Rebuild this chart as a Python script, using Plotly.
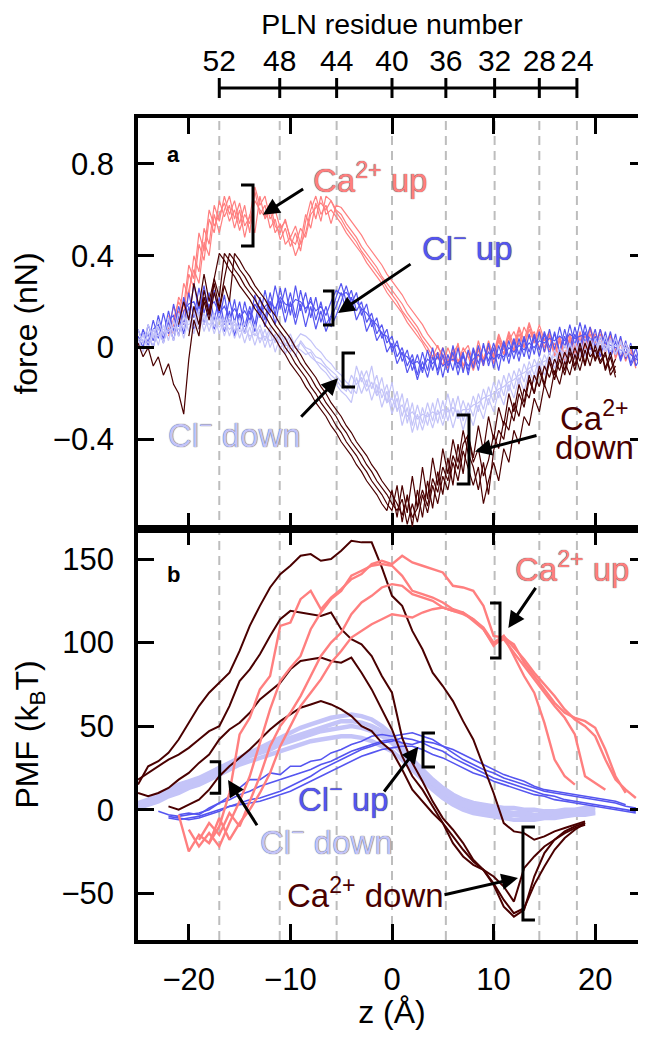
import plotly.graph_objects as go

FONT = "Liberation Sans, Arial, Helvetica, sans-serif"
C_CA_UP = "#FF7F7F"
C_CL_UP = "#5555F0"
C_CL_DOWN = "#C4C4F8"
C_CA_DOWN = "#4A0000"

# ---------------- top axis: PLN residue numbers and their z positions ----------------
residue_numbers = [52, 48, 44, 40, 36, 32, 28, 24]
residue_z = [-17.0, -11.05, -5.45, 0.0, 5.3, 10.1, 14.5, 18.2]

# ---------------- panel a: force (nN) vs z (Å) ----------------
z_force = [-25.0, -24.5, -24.0, -23.5, -23.0, -22.5, -22.0, -21.5, -21.0, -20.5,
           -20.0, -19.5, -19.0, -18.5, -18.0, -17.5, -17.0, -16.5, -16.0, -15.5,
           -15.0, -14.5, -14.0, -13.5, -13.0, -12.5, -12.0, -11.5, -11.0, -10.5,
           -10.0, -9.5, -9.0, -8.5, -8.0, -7.5, -7.0, -6.5, -6.0, -5.5,
           -5.0, -4.5, -4.0, -3.5, -3.0, -2.5, -2.0, -1.5, -1.0, -0.5,
           0.0, 0.5, 1.0, 1.5, 2.0, 2.5, 3.0, 3.5, 4.0, 4.5,
           5.0, 5.5, 6.0, 6.5, 7.0, 7.5, 8.0, 8.5, 9.0, 9.5,
           10.0, 10.5, 11.0, 11.5, 12.0, 12.5, 13.0, 13.5, 14.0, 14.5,
           15.0, 15.5, 16.0, 16.5, 17.0, 17.5, 18.0, 18.5, 19.0, 19.5,
           20.0, 20.5, 21.0, 21.5, 22.0, 22.5, 23.0, 23.5, 24.0, 24.5]

force_ca_up_1 = [None, None, None, None, None, None, 0.08, 0.18, 0.12, 0.28,
                 0.22, 0.40, 0.33, 0.52, 0.45, 0.62, 0.55, 0.66, 0.58, 0.64,
                 0.54, 0.62, 0.50, 0.68, 0.58, 0.62, 0.52, 0.56, 0.47, 0.52,
                 0.44, 0.50, 0.42, 0.55, 0.64, 0.56, 0.66, 0.58, 0.60, 0.57,
                 0.54, 0.50, 0.47, 0.44, 0.41, 0.37, 0.34, 0.31, 0.28, 0.24,
                 0.21, 0.18, 0.15, 0.11, 0.08, 0.05, 0.02, -0.02, -0.05, -0.02,
                 -0.08, 0.0, -0.06, 0.02, -0.1, -0.02, -0.08, 0.03, -0.05, 0.01,
                 -0.07, 0.04, -0.03, 0.06, -0.02, 0.08, 0.0, 0.1, 0.02, 0.07,
                 -0.02, 0.05, -0.04, 0.03, -0.06, 0.04, -0.03, 0.06, -0.02, 0.08,
                 0.0, 0.05, -0.03, 0.06, -0.05, 0.02, -0.06, 0.0, -0.08, None]
force_ca_up_2 = [None, None, None, None, None, None, 0.05, 0.12, 0.20, 0.15,
                 0.32, 0.26, 0.45, 0.38, 0.56, 0.50, 0.64, 0.57, 0.62, 0.52,
                 0.60, 0.48, 0.58, 0.50, 0.66, 0.56, 0.60, 0.50, 0.54, 0.45,
                 0.48, 0.40, 0.46, 0.58, 0.52, 0.63, 0.55, 0.66, 0.64, 0.60,
                 0.58, 0.54, 0.51, 0.48, 0.44, 0.41, 0.38, 0.35, 0.31, 0.28,
                 0.25, 0.22, 0.19, 0.15, 0.12, 0.09, 0.05, 0.02, -0.01, -0.05,
                 0.0, -0.06, -0.02, 0.01, -0.08, -0.02, -0.09, 0.0, -0.06, 0.03,
                 -0.04, 0.05, -0.01, 0.07, 0.01, 0.09, 0.03, 0.11, 0.04, 0.08,
                 0.0, 0.06, -0.03, 0.04, -0.04, 0.05, -0.02, 0.07, 0.0, 0.09,
                 0.02, 0.06, -0.02, 0.05, -0.04, 0.03, -0.05, -0.01, -0.09, None]
force_ca_up_3 = [None, None, None, None, None, None, 0.10, 0.06, 0.16, 0.10,
                 0.25, 0.34, 0.28, 0.46, 0.40, 0.58, 0.50, 0.60, 0.66, 0.56,
                 0.63, 0.53, 0.57, 0.70, 0.62, 0.66, 0.56, 0.60, 0.52, 0.55,
                 0.48, 0.53, 0.45, 0.50, 0.60, 0.66, 0.58, 0.62, 0.54, 0.62,
                 0.61, 0.58, 0.55, 0.52, 0.49, 0.45, 0.42, 0.39, 0.36, 0.32,
                 0.29, 0.26, 0.23, 0.19, 0.16, 0.13, 0.10, 0.06, 0.03, 0.0,
                 -0.03, -0.07, 0.0, -0.06, -0.02, 0.01, -0.07, -0.01, -0.08, 0.02,
                 -0.05, 0.03, -0.03, 0.05, -0.01, 0.06, 0.0, 0.08, 0.02, 0.10,
                 0.03, 0.07, -0.01, 0.05, -0.03, 0.03, -0.05, 0.04, -0.02, 0.06,
                 0.0, 0.08, 0.01, 0.06, -0.02, 0.04, -0.03, 0.01, -0.06, None]
force_ca_up_4 = [None, None, None, None, None, None, 0.14, 0.09, 0.22, 0.18,
                 0.36, 0.30, 0.50, 0.42, 0.60, 0.53, 0.58, 0.63, 0.55, 0.60,
                 0.51, 0.58, 0.54, 0.64, 0.60, 0.57, 0.63, 0.53, 0.50, 0.56,
                 0.47, 0.45, 0.52, 0.48, 0.58, 0.61, 0.63, 0.60, 0.64, 0.59,
                 0.56, 0.52, 0.49, 0.46, 0.42, 0.39, 0.36, 0.33, 0.30, 0.26,
                 0.23, 0.20, 0.16, 0.13, 0.10, 0.07, 0.03, 0.0, -0.04, 0.01,
                 -0.05, -0.09, -0.03, -0.07, 0.0, -0.04, -0.1, -0.03, -0.07, 0.0,
                 -0.03, 0.06, 0.0, 0.03, 0.07, 0.01, 0.09, 0.04, 0.07, 0.0,
                 0.04, -0.01, 0.02, -0.05, 0.01, 0.06, 0.0, 0.03, 0.05, 0.01,
                 0.06, 0.02, 0.0, 0.03, -0.01, -0.04, 0.02, -0.03, -0.05, None]

force_cl_up_1 = [0.05, 0.0, 0.10, 0.03, 0.14, 0.05, 0.16, 0.07, 0.18, 0.10,
                 0.24, 0.13, 0.26, 0.15, 0.24, 0.12, 0.22, 0.10, 0.21, 0.11,
                 0.20, 0.09, 0.18, 0.10, 0.22, 0.12, 0.24, 0.14, 0.26, 0.15,
                 0.24, 0.13, 0.25, 0.15, 0.22, 0.12, 0.20, 0.10, 0.14, 0.22,
                 0.28, 0.20, 0.25, 0.16, 0.20, 0.11, 0.15, 0.06, 0.10, 0.02,
                 0.05, -0.04, 0.0, -0.08, -0.03, -0.12, -0.02, -0.10, 0.0, -0.12,
                 -0.03, -0.11, 0.01, -0.09, -0.02, -0.12, -0.01, -0.1, 0.02, -0.08,
                 0.0, -0.1, 0.02, -0.07, 0.03, -0.06, 0.04, -0.05, 0.05, -0.04,
                 0.06, -0.03, 0.07, -0.02, 0.08, -0.01, 0.09, 0.0, 0.1, 0.01,
                 0.08, -0.02, 0.07, -0.03, 0.06, -0.05, 0.03, -0.07, 0.0, -0.09]
force_cl_up_2 = [0.0, 0.08, 0.02, 0.12, 0.04, 0.15, 0.06, 0.19, 0.09, 0.22,
                 0.12, 0.28, 0.16, 0.27, 0.14, 0.25, 0.12, 0.23, 0.10, 0.21,
                 0.08, 0.20, 0.11, 0.23, 0.13, 0.25, 0.15, 0.27, 0.17, 0.26,
                 0.14, 0.27, 0.16, 0.24, 0.13, 0.22, 0.11, 0.18, 0.09, 0.14,
                 0.20, 0.27, 0.19, 0.24, 0.14, 0.19, 0.09, 0.13, 0.04, 0.08,
                 -0.02, 0.03, -0.06, -0.01, -0.1, -0.03, -0.11, -0.01, -0.1, -0.02,
                 -0.13, -0.03, -0.1, 0.0, -0.11, -0.01, -0.09, 0.01, -0.08, 0.02,
                 -0.09, 0.01, -0.06, 0.03, -0.05, 0.04, -0.04, 0.06, -0.03, 0.07,
                 -0.02, 0.08, -0.01, 0.09, 0.0, 0.1, 0.01, 0.11, 0.02, 0.09,
                 0.0, 0.08, -0.01, 0.07, -0.03, 0.05, -0.05, 0.02, -0.08, -0.04]
force_cl_up_3 = [0.08, 0.02, 0.06, 0.0, 0.09, 0.02, 0.11, 0.03, 0.14, 0.06,
                 0.18, 0.08, 0.2, 0.1, 0.19, 0.08, 0.17, 0.07, 0.16, 0.05,
                 0.15, 0.06, 0.16, 0.07, 0.18, 0.09, 0.2, 0.1, 0.21, 0.11,
                 0.2, 0.1, 0.19, 0.09, 0.18, 0.08, 0.16, 0.07, 0.13, 0.18,
                 0.24, 0.16, 0.22, 0.12, 0.17, 0.07, 0.12, 0.03, 0.07, -0.02,
                 0.02, -0.07, -0.02, -0.11, -0.05, -0.14, -0.06, -0.13, -0.04, -0.1,
                 0.0, -0.08, -0.02, -0.12, -0.03, -0.1, 0.0, -0.07, 0.01, -0.06,
                 0.02, -0.05, 0.03, -0.04, 0.04, -0.03, 0.05, -0.02, 0.06, -0.01,
                 0.07, 0.0, 0.06, -0.02, 0.05, -0.03, 0.06, -0.02, 0.07, -0.01,
                 0.05, -0.04, 0.04, -0.05, 0.03, -0.06, 0.01, -0.08, -0.03, -0.1]
force_cl_up_4 = [0.03, 0.06, 0.01, 0.08, 0.1, 0.04, 0.12, 0.14, 0.05, 0.16,
                 0.19, 0.2, 0.14, 0.22, 0.18, 0.2, 0.15, 0.18, 0.13, 0.17,
                 0.13, 0.16, 0.12, 0.19, 0.15, 0.18, 0.2, 0.17, 0.22, 0.19,
                 0.18, 0.21, 0.2, 0.17, 0.2, 0.16, 0.18, 0.14, 0.2, 0.25,
                 0.23, 0.24, 0.21, 0.2, 0.17, 0.15, 0.12, 0.1, 0.06, 0.05,
                 0.0, 0.01, -0.03, -0.04, -0.07, -0.06, -0.09, -0.05, -0.07, -0.04,
                 -0.08, -0.06, -0.05, -0.07, -0.04, -0.08, -0.05, -0.03, -0.06, -0.02,
                 -0.05, -0.03, -0.04, 0.0, -0.02, 0.01, -0.01, 0.02, 0.0, 0.03,
                 0.02, 0.04, 0.03, 0.05, 0.03, 0.06, 0.04, 0.05, 0.06, 0.04,
                 0.03, 0.04, 0.02, 0.01, 0.0, -0.01, -0.02, -0.03, -0.05, -0.06]

force_cl_down_1 = [0.04, -0.02, 0.07, 0.0, 0.09, 0.02, 0.1, 0.03, 0.12, 0.04,
                   0.13, 0.06, 0.15, 0.07, 0.14, 0.06, 0.13, 0.05, 0.12, 0.04,
                   0.1, 0.02, 0.09, 0.01, 0.08, 0.0, 0.07, -0.02, 0.05, -0.03,
                   0.04, -0.04, 0.03, 0.0, -0.01, -0.04, -0.05, -0.08, -0.1, -0.12,
                   -0.15, -0.17, -0.2, -0.08, -0.15, -0.1, -0.18, -0.12, -0.22, -0.16,
                   -0.26, -0.19, -0.3, -0.22, -0.34, -0.25, -0.33, -0.24, -0.32, -0.22,
                   -0.31, -0.2, -0.3, -0.21, -0.32, -0.24, -0.3, -0.2, -0.27, -0.17,
                   -0.24, -0.14, -0.21, -0.11, -0.18, -0.09, -0.15, -0.06, -0.12, -0.04,
                   -0.09, -0.02, -0.07, 0.0, -0.05, 0.02, -0.04, 0.03, -0.03, 0.04,
                   -0.02, 0.05, -0.01, 0.04, -0.03, 0.03, -0.04, 0.01, None, None]
force_cl_down_2 = [0.0, 0.06, -0.01, 0.08, 0.01, 0.1, 0.03, 0.12, 0.05, 0.14,
                   0.07, 0.16, 0.08, 0.15, 0.07, 0.15, 0.06, 0.13, 0.05, 0.12,
                   0.04, 0.11, 0.03, 0.1, 0.02, 0.08, 0.0, 0.06, -0.01, 0.05,
                   -0.02, 0.03, 0.06, 0.05, 0.03, 0.0, -0.02, -0.05, -0.07, -0.1,
                   -0.12, -0.15, -0.17, -0.2, -0.1, -0.17, -0.08, -0.2, -0.13, -0.24,
                   -0.15, -0.28, -0.2, -0.33, -0.24, -0.36, -0.26, -0.34, -0.24, -0.33,
                   -0.23, -0.32, -0.22, -0.31, -0.23, -0.3, -0.21, -0.28, -0.18, -0.25,
                   -0.15, -0.22, -0.12, -0.19, -0.1, -0.16, -0.07, -0.13, -0.05, -0.1,
                   -0.03, -0.08, -0.01, -0.06, 0.01, -0.04, 0.02, -0.04, 0.03, -0.03,
                   0.04, -0.02, 0.05, -0.02, 0.04, -0.03, 0.02, -0.05, None, None]
force_cl_down_3 = [0.08, 0.02, 0.1, 0.04, 0.12, 0.05, 0.13, 0.06, 0.15, 0.08,
                   0.16, 0.09, 0.17, 0.1, 0.16, 0.09, 0.15, 0.08, 0.14, 0.07,
                   0.13, 0.06, 0.12, 0.05, 0.1, 0.03, 0.09, 0.02, 0.07, 0.01,
                   0.06, 0.0, 0.02, -0.01, -0.04, -0.06, -0.09, -0.11, -0.14, -0.16,
                   -0.19, -0.21, -0.24, -0.13, -0.2, -0.14, -0.23, -0.16, -0.26, -0.19,
                   -0.29, -0.22, -0.34, -0.26, -0.37, -0.29, -0.36, -0.28, -0.35, -0.27,
                   -0.34, -0.26, -0.35, -0.27, -0.36, -0.28, -0.34, -0.25, -0.31, -0.22,
                   -0.28, -0.19, -0.25, -0.16, -0.22, -0.13, -0.19, -0.1, -0.15, -0.07,
                   -0.12, -0.05, -0.09, -0.02, -0.07, 0.0, -0.05, 0.01, -0.04, 0.02,
                   -0.03, 0.03, -0.02, 0.03, -0.03, 0.02, -0.04, 0.0, None, None]
force_cl_down_4 = [0.03, 0.05, 0.02, 0.06, 0.05, 0.08, 0.07, 0.09, 0.08, 0.11,
                   0.1, 0.12, 0.11, 0.13, 0.1, 0.12, 0.09, 0.11, 0.08, 0.1,
                   0.07, 0.08, 0.05, 0.06, 0.04, 0.05, 0.03, 0.04, 0.02, 0.01,
                   0.01, 0.0, -0.01, -0.03, -0.02, -0.06, -0.07, -0.09, -0.12, -0.14,
                   -0.17, -0.19, -0.12, -0.16, -0.13, -0.19, -0.15, -0.21, -0.18, -0.24,
                   -0.22, -0.27, -0.25, -0.3, -0.28, -0.31, -0.29, -0.3, -0.28, -0.29,
                   -0.27, -0.28, -0.26, -0.29, -0.27, -0.27, -0.25, -0.24, -0.22, -0.21,
                   -0.2, -0.18, -0.17, -0.15, -0.14, -0.12, -0.11, -0.09, -0.08, -0.07,
                   -0.06, -0.05, -0.04, -0.03, -0.02, -0.02, -0.01, 0.0, -0.01, 0.01,
                   0.0, 0.02, 0.01, 0.0, 0.01, -0.01, 0.0, -0.02, None, None]

force_ca_down_1 = [0.02, -0.04, 0.0, -0.08, -0.04, -0.12, -0.07, -0.16, -0.2, -0.29,
                   -0.05, 0.12, 0.05, 0.22, 0.14, 0.3, 0.41, 0.38, 0.34, 0.31,
                   0.27, 0.24, 0.21, 0.17, 0.14, 0.10, 0.07, 0.04, 0.0, -0.03,
                   -0.07, -0.10, -0.13, -0.17, -0.20, -0.24, -0.27, -0.30, -0.34, -0.37,
                   -0.41, -0.44, -0.47, -0.51, -0.54, -0.58, -0.61, -0.64, -0.68, -0.71,
                   -0.62, -0.74, -0.6, -0.72, -0.56, -0.7, -0.52, -0.66, -0.48, -0.6,
                   -0.44, -0.55, -0.4, -0.5, -0.36, -0.46, -0.52, -0.62, -0.5, -0.64,
                   -0.45, -0.36, -0.4, -0.26, -0.32, -0.2, -0.26, -0.14, -0.2, -0.1,
                   -0.17, -0.06, -0.14, -0.05, -0.12, -0.02, -0.1, 0.0, -0.08, 0.02,
                   -0.06, 0.0, -0.1, -0.04, -0.13, None, None, None, None, None]
force_ca_down_2 = [None, None, None, None, None, None, None, None, 0.1, 0.2,
                   0.12, 0.28, 0.18, 0.32, 0.2, 0.3, 0.22, 0.41, 0.38, 0.34,
                   0.31, 0.27, 0.24, 0.21, 0.17, 0.14, 0.10, 0.07, 0.04, 0.0,
                   -0.03, -0.07, -0.10, -0.13, -0.17, -0.20, -0.24, -0.27, -0.30, -0.34,
                   -0.37, -0.41, -0.44, -0.47, -0.51, -0.54, -0.58, -0.61, -0.64, -0.68,
                   -0.71, -0.6, -0.76, -0.64, -0.78, -0.62, -0.74, -0.58, -0.7, -0.54,
                   -0.64, -0.48, -0.6, -0.42, -0.55, -0.38, -0.48, -0.34, -0.45, -0.3,
                   -0.4, -0.26, -0.34, -0.2, -0.28, -0.16, -0.24, -0.12, -0.2, -0.08,
                   -0.16, -0.04, -0.12, -0.02, -0.1, 0.0, -0.08, 0.02, -0.07, 0.03,
                   -0.05, 0.01, -0.09, -0.02, -0.11, None, None, None, None, None]
force_ca_down_3 = [None, None, None, None, None, None, None, None, None, None,
                   0.05, 0.18, 0.1, 0.25, 0.15, 0.28, 0.17, 0.3, 0.41, 0.38,
                   0.34, 0.31, 0.27, 0.24, 0.21, 0.17, 0.14, 0.10, 0.07, 0.04,
                   0.0, -0.03, -0.07, -0.10, -0.13, -0.17, -0.20, -0.24, -0.27, -0.30,
                   -0.34, -0.37, -0.41, -0.44, -0.47, -0.51, -0.54, -0.58, -0.61, -0.64,
                   -0.68, -0.71, -0.66, -0.77, -0.68, -0.76, -0.64, -0.72, -0.6, -0.68,
                   -0.56, -0.62, -0.5, -0.58, -0.45, -0.52, -0.6, -0.52, -0.68, -0.58,
                   -0.5, -0.58, -0.44, -0.5, -0.36, -0.42, -0.3, -0.34, -0.22, -0.28,
                   -0.16, -0.22, -0.1, -0.16, -0.06, -0.12, -0.03, -0.1, -0.01, -0.08,
                   0.01, -0.06, -0.02, -0.12, -0.08, None, None, None, None, None]
force_ca_down_4 = [None, None, None, None, None, None, None, None, None, None,
                   None, None, 0.08, 0.2, 0.12, 0.24, 0.16, 0.27, 0.2, 0.41,
                   0.38, 0.34, 0.31, 0.27, 0.24, 0.21, 0.17, 0.14, 0.10, 0.07,
                   0.04, 0.0, -0.03, -0.07, -0.10, -0.13, -0.17, -0.20, -0.24, -0.27,
                   -0.30, -0.34, -0.37, -0.41, -0.44, -0.47, -0.51, -0.54, -0.58, -0.61,
                   -0.64, -0.68, -0.73, -0.65, -0.74, -0.7, -0.62, -0.69, -0.57, -0.63,
                   -0.52, -0.58, -0.47, -0.53, -0.42, -0.38, -0.5, -0.44, -0.56, -0.49,
                   -0.38, -0.44, -0.32, -0.36, -0.24, -0.3, -0.18, -0.22, -0.12, -0.17,
                   -0.08, -0.13, -0.05, -0.1, -0.02, -0.07, 0.0, -0.06, 0.02, -0.04,
                   -0.01, -0.07, -0.03, -0.1, -0.05, None, None, None, None, None]

# ---------------- panel b: PMF (kBT) vs z (Å) ----------------
z_pmf = [-25, -24, -23, -22, -21, -20, -19, -18, -17, -16,
         -15, -14, -13, -12, -11, -10, -9, -8, -7, -6,
         -5, -4, -3, -2, -1, 0, 1, 2, 3, 4,
         5, 6, 7, 8, 9, 10, 11, 12, 13, 14,
         15, 16, 17, 18, 19, 20, 21, 22, 23, 24]

pmf_ca_up_1 = [None, None, None, None, -3, -25, -15, -20, -10, 10,
               45, 55, 72, 80, 110, 112, 126, 131, 120, 127,
               132, 138, 141, 147, 149, 147, 152, 148, 146, 144,
               142, 134, 133, 131, 122, 104, 103, 99, 88, 80,
               72, 64, 58, 55, 53, 49, 36, 20, 10, None]
pmf_ca_up_2 = [None, None, None, None, None, -12, -22, -14, -22, -8,
               5, 20, 40, 60, 77, 85, 92, 108, 118, 126,
               131, 140, 143, 146, 147, 146, 140, 131, 129, 127,
               124, 120, 118, 114, 109, 100, 104, 92, 80, 70,
               52, 30, 20, 15, None, None, None, None, None, None]
pmf_ca_up_3 = [None, None, None, None, None, None, -18, -8, -15, -2,
               -10, 5, 20, 38, 50, 58, 68, 80, 92, 100,
               106, 117, 124, 128, 133, 135, 134, 129, 127, 125,
               121, 119, 118, 113, 108, 99, 102, 94, 86, 78,
               70, 62, 55, 45, 20, 16, 12, None, None, None]
pmf_ca_up_4 = [None, None, None, None, None, None, None, -20, -5, -18,
               -8, 0, 10, 22, 38, 50, 62, 70, 78, 88,
               95, 103, 107, 111, 114, 117, 116, 115, 118, 120,
               121, 119, 117, 114, 108, 98, 104, 97, 90, 82,
               75, 68, 60, 54, 50, 44, 30, 18, 12, 7]

pmf_ca_down_1 = [15, 26, 29, 34, 42, 52, 62, 70, 76, 82,
                 95, 110, 122, 133, 141, 146, 152, 153, 149, 150,
                 155, 161, 160, 160, 145, 128, 122, 107, 96, 82,
                 74, 65, 53, 42, 26, 10, -8, -13, -14, -18,
                 -16, -13, -11, -9, -7, None, None, None, None, None]
pmf_ca_down_2 = [18, 22, 26, 30, 33, 37, 42, 47, 50, 62,
                 77, 84, 93, 104, 114, 119, 118, 117, 116, 118,
                 108, 102, 99, 92, 80, 70, 43, 28, 17, 5,
                 -5, -12, -20, -30, -36, -44, -54, -62, -59, -45,
                 -34, -24, -17, -12, -8, None, None, None, None, None]
pmf_ca_down_3 = [10, 8, 10, 13, 18, 22, 28, 33, 42, 48,
                 52, 58, 66, 71, 76, 84, 89, 90, 91, 89,
                 88, 91, 82, 72, 60, 48, 32, 20, 12, 2,
                 -8, -16, -24, -31, -36, -40, -46, -55, -35, -28,
                 -22, -18, -14, -11, -9, None, None, None, None, None]
pmf_ca_down_4 = [None, None, None, 2, 0, 3, 6, 12, 20, 26,
                 31, 36, 42, 48, 53, 57, 61, 63, 65, 63,
                 60, 56, 50, 47, 40, 35, 24, 12, 5, -2,
                 -8, -20, -28, -33, -36, -45, -58, -64, -60, -40,
                 -26, -18, -13, -10, -8, None, None, None, None, None]

pmf_cl_up_1 = [None, None, -1, -3, -4, -3, -2, 0, 4, 8,
               13, 18, 18, 22, 21, 26, 26, 29, 30, 34,
               36, 39, 41, 44, 45, 44, 45, 46, 44, 42,
               38, 34, 30, 27, 24, 22, 19, 17, 15, 13,
               11, 10, 9, 8, 7, 6, 5, 4, 2, 1]
pmf_cl_up_2 = [None, None, None, -5, -6, -5, -4, -2, 0, 2,
               4, 6, 7, 9, 11, 14, 17, 20, 24, 27,
               30, 33, 36, 38, 40, 41, 43, 42, 40, 37,
               35, 31, 28, 25, 22, 19, 17, 15, 13, 11,
               9, 8, 6, 5, 4, 3, 2, 1, 0, -1]
pmf_cl_up_3 = [None, None, None, None, -3, -2, -3, 1, 4, 6,
               9, 11, 14, 16, 18, 20, 22, 24, 27, 29,
               32, 35, 37, 39, 41, 42, 40, 39, 41, 40,
               38, 36, 33, 30, 27, 24, 21, 19, 17, 14,
               12, 11, 10, 9, 8, 7, 6, 5, 3, None]
pmf_cl_up_4 = [None, None, None, -4, -5, -6, -5, -3, -1, 2,
               3, 4, 5, 7, 9, 11, 14, 17, 20, 23,
               26, 29, 32, 34, 36, 37, 38, 38, 36, 33,
               31, 28, 25, 22, 20, 17, 15, 13, 11, 9,
               8, 6, 5, 4, 3, 2, 1, 0, -1, -2]

pmf_cl_down_1 = [4, 6, 9, 12, 15, 17, 19, 22, 25, 28,
                 31, 34, 37, 40, 43, 46, 49, 51, 53, 55,
                 56, 57, 56, 54, 50, 45, 38, 30, 24, 18,
                 13, 9, 6, 4, 3, 2, 1, 1, 0, 0,
                 -1, -1, 0, 0, 1, 1, None, None, None, None]
pmf_cl_down_2 = [2, 4, 7, 10, 12, 15, 17, 20, 23, 26,
                 29, 32, 34, 36, 39, 41, 43, 45, 47, 48,
                 49, 50, 49, 47, 44, 40, 34, 27, 20, 14,
                 9, 5, 2, 0, -1, -2, -3, -3, -4, -4,
                 -4, -3, -3, -2, -2, -1, None, None, None, None]
pmf_cl_down_3 = [1, 3, 5, 8, 10, 13, 15, 18, 21, 24,
                 27, 29, 31, 33, 35, 37, 39, 41, 42, 43,
                 44, 44, 43, 41, 38, 35, 30, 24, 18, 12,
                 7, 3, 0, -2, -3, -4, -5, -6, -6, -6,
                 -5, -5, -4, -3, -3, -2, None, None, None, None]
pmf_cl_down_4 = [3, 5, 8, 11, 14, 16, 18, 21, 25, 27,
                 30, 33, 35, 38, 41, 43, 45, 47, 49, 51,
                 53, 53, 52, 50, 47, 43, 37, 29, 22, 16,
                 11, 7, 4, 2, 1, 0, -1, -2, -2, -3,
                 -3, -2, -2, -1, 0, 0, None, None, None, None]

# ---------------- figure ----------------
fig = go.Figure()


def add_line(xs, ys, color, width, panel):
    fig.add_trace(go.Scatter(
        x=xs, y=ys, mode="lines", line=dict(color=color, width=width),
        xaxis="x2" if panel == "a" else "x", yaxis="y2" if panel == "a" else "y",
        showlegend=False, hoverinfo="skip", connectgaps=False))


# panel a
for ys in (force_ca_up_1, force_ca_up_2, force_ca_up_3, force_ca_up_4):
    add_line(z_force, ys, C_CA_UP, 1.2, "a")
for ys in (force_cl_up_1, force_cl_up_2, force_cl_up_3, force_cl_up_4):
    add_line(z_force, ys, C_CL_UP, 1.2, "a")
for ys in (force_cl_down_1, force_cl_down_2, force_cl_down_3, force_cl_down_4):
    add_line(z_force, ys, C_CL_DOWN, 1.2, "a")
for ys in (force_ca_down_1, force_ca_down_2, force_ca_down_3, force_ca_down_4):
    add_line(z_force, ys, C_CA_DOWN, 1.2, "a")

# panel b
for ys in (pmf_cl_down_1, pmf_cl_down_2, pmf_cl_down_3, pmf_cl_down_4):
    add_line(z_pmf, ys, C_CL_DOWN, 4.5, "b")
for ys in (pmf_cl_up_1, pmf_cl_up_2, pmf_cl_up_3, pmf_cl_up_4):
    add_line(z_pmf, ys, C_CL_UP, 1.6, "b")
for ys in (pmf_ca_down_1, pmf_ca_down_2, pmf_ca_down_3, pmf_ca_down_4):
    add_line(z_pmf, ys, C_CA_DOWN, 2.0, "b")
for ys in (pmf_ca_up_1, pmf_ca_up_2, pmf_ca_up_3, pmf_ca_up_4):
    add_line(z_pmf, ys, C_CA_UP, 2.4, "b")

# right-side tick carriers (no data)
fig.add_trace(go.Scatter(x=[None], y=[None], xaxis="x", yaxis="y3", showlegend=False, hoverinfo="skip"))
fig.add_trace(go.Scatter(x=[None], y=[None], xaxis="x2", yaxis="y4", showlegend=False, hoverinfo="skip"))

# top residue axis line with cross ticks
fig.add_trace(go.Scatter(
    x=residue_z, y=[0] * len(residue_z), xaxis="x3", yaxis="y5", mode="lines+markers",
    line=dict(color="black", width=3),
    marker=dict(symbol="line-ns", size=16, color="black", line=dict(color="black", width=3)),
    showlegend=False, hoverinfo="skip"))

# layout geometry (the page adds an 8px body margin, compensated here)
PANEL_SPLIT = 0.44099
PANEL_TOP = 0.88197
X_RANGE = [-25, 25]
F_RANGE = [-0.79, 1.0]
P_RANGE = [-78, 168]

tick_font = dict(family=FONT, size=31, color="black")
frame = dict(showline=True, linewidth=3.5, linecolor="black", ticks="inside", ticklen=16,
             tickwidth=3, tickcolor="black", showgrid=False, zeroline=False)

fig.update_layout(
    width=638, height=1022,
    margin=dict(l=130, r=0, t=0, b=90),
    paper_bgcolor="white", plot_bgcolor="white",
    font=dict(family=FONT, color="black"),
    xaxis=dict(domain=[0, 1], anchor="y", range=X_RANGE, tickvals=[-20, -10, 0, 10, 20],
               mirror="ticks", tickfont=tick_font, ticklabelstandoff=9,
               title=dict(text="z (Å)", font=dict(family=FONT, size=32), standoff=9), **frame),
    xaxis2=dict(domain=[0, 1], anchor="y2", matches="x", range=X_RANGE, tickvals=[-20, -10, 0, 10, 20],
                mirror="ticks", showticklabels=False, **frame),
    yaxis=dict(domain=[0, PANEL_SPLIT], anchor="x", range=P_RANGE, tickvals=[-50, 0, 50, 100, 150],
               tickfont=tick_font, ticklabelstandoff=14,
               title=dict(text="PMF (k<sub>B</sub>T)", font=dict(family=FONT, size=32), standoff=14),
               **frame),
    yaxis2=dict(domain=[PANEL_SPLIT, PANEL_TOP], anchor="x2", range=F_RANGE, tickvals=[-0.4, 0, 0.4, 0.8],
                tickfont=tick_font, ticklabelstandoff=14,
                title=dict(text="force (nN)", font=dict(family=FONT, size=32), standoff=15),
                **frame),
    yaxis3=dict(overlaying="y", side="right", anchor="x", range=P_RANGE, tickvals=[-50, 0, 50, 100, 150],
                ticks="inside", ticklen=16, tickwidth=3, tickcolor="black", showticklabels=False,
                showline=False, showgrid=False, zeroline=False),
    yaxis4=dict(overlaying="y2", side="right", anchor="x2", range=F_RANGE, tickvals=[-0.4, 0, 0.4, 0.8],
                ticks="inside", ticklen=16, tickwidth=3, tickcolor="black", showticklabels=False,
                showline=False, showgrid=False, zeroline=False),
    xaxis3=dict(domain=[0, 1], anchor="y5", side="top", range=X_RANGE, tickmode="array",
                tickvals=residue_z, ticktext=[str(r) for r in residue_numbers], ticks="",
                showline=False, showgrid=False, zeroline=False, tickfont=dict(family=FONT, size=30),
                title=dict(text="PLN residue number", font=dict(family=FONT, size=28.5), standoff=1)),
    yaxis5=dict(domain=[0.9034, 0.9249], anchor="x3", range=[-1, 1], visible=False),
)

# dashed guides at residue positions
for zr in residue_z:
    fig.add_shape(type="line", xref="x", yref="paper", x0=zr, x1=zr, y0=0, y1=PANEL_TOP,
                  line=dict(color="#BDBDBD", width=2, dash="9px,6px"), layer="below")


def bracket(x_open, x_spine, y_top, y_bot, xref, yref):
    fig.add_shape(type="path", xref=xref, yref=yref,
                  path=f"M {x_open},{y_top} L {x_spine},{y_top} L {x_spine},{y_bot} L {x_open},{y_bot}",
                  line=dict(color="black", width=3))


def arrow(x_head, y_head, x_tail, y_tail, xref, yref):
    fig.add_annotation(x=x_head, y=y_head, ax=x_tail, ay=y_tail, xref=xref, yref=yref,
                       axref=xref, ayref=yref, text="", showarrow=True, arrowhead=2,
                       arrowsize=1.1, arrowwidth=3, arrowcolor="black", standoff=0)


OUTLINE = "0 0 1px #222"


def label(text, x, y, color, xref, yref, xanchor="left", size=33, outline=True):
    f = dict(family=FONT, size=size, color=color)
    if outline:
        f["shadow"] = OUTLINE
    fig.add_annotation(x=x, y=y, xref=xref, yref=yref, text=text, showarrow=False,
                       xanchor=xanchor, yanchor="middle", font=f)


# panel a decorations
fig.add_annotation(x=-21.5, y=0.84, xref="x2", yref="y2", text="<b>a</b>", showarrow=False,
                   font=dict(family=FONT, size=22, color="black"))
label("Ca<sup>2+</sup> up", -7.97, 0.739, C_CA_UP, "x2", "y2")
arrow(-12.7, 0.579, -8.6, 0.695, "x2", "y2")
bracket(-14.86, -13.68, 0.708, 0.442, "x2", "y2")
label("Cl<sup>−</sup> up", 2.76, 0.441, C_CL_UP, "x2", "y2")
arrow(-5.31, 0.151, 1.97, 0.368, "x2", "y2")
bracket(-6.79, -5.81, 0.246, 0.098, "x2", "y2")
label("Cl<sup>−</sup> down", -22.24, -0.372, C_CL_DOWN, "x2", "y2")
arrow(-5.31, -0.134, -9.08, -0.308, "x2", "y2")
bracket(-3.64, -4.82, -0.024, -0.172, "x2", "y2")
label("Ca<sup>2+</sup>", 19.9, -0.300, C_CA_DOWN, "x2", "y2", xanchor="center", outline=False)
label("down", 19.9, -0.437, C_CA_DOWN, "x2", "y2", xanchor="center", outline=False)
arrow(8.17, -0.453, 14.37, -0.381, "x2", "y2")
bracket(6.37, 7.58, -0.294, -0.594, "x2", "y2")

# panel b decorations
fig.add_annotation(x=-21.5, y=140.5, xref="x", yref="y", text="<b>b</b>", showarrow=False,
                   font=dict(family=FONT, size=22, color="black"))
label("Ca<sup>2+</sup> up", 11.9, 145.3, C_CA_UP, "x", "y")
arrow(11.45, 108.8, 14.24, 133.7, "x", "y")
bracket(9.65, 10.63, 123.7, 90.8, "x", "y")
label("Cl<sup>−</sup> up", -9.45, 7.8, C_CL_UP, "x", "y")
arrow(2.59, 37.7, -0.89, 10.0, "x", "y")
bracket(4.23, 3.05, 45.9, 25.6, "x", "y")
label("Cl<sup>−</sup> down", -13.19, -18.1, C_CL_DOWN, "x", "y")
arrow(-16.14, 17.8, -13.19, -10.2, "x", "y")
bracket(-17.94, -16.96, 28.7, 9.8, "x", "y")
label("Ca<sup>2+</sup> down", -10.53, -49.9, C_CA_DOWN, "x", "y", outline=False)
arrow(12.4, -40.9, 5.02, -51.1, "x", "y")
bracket(14.07, 12.89, -10.4, -66.0, "x", "y")

fig.write_html("out.html")
